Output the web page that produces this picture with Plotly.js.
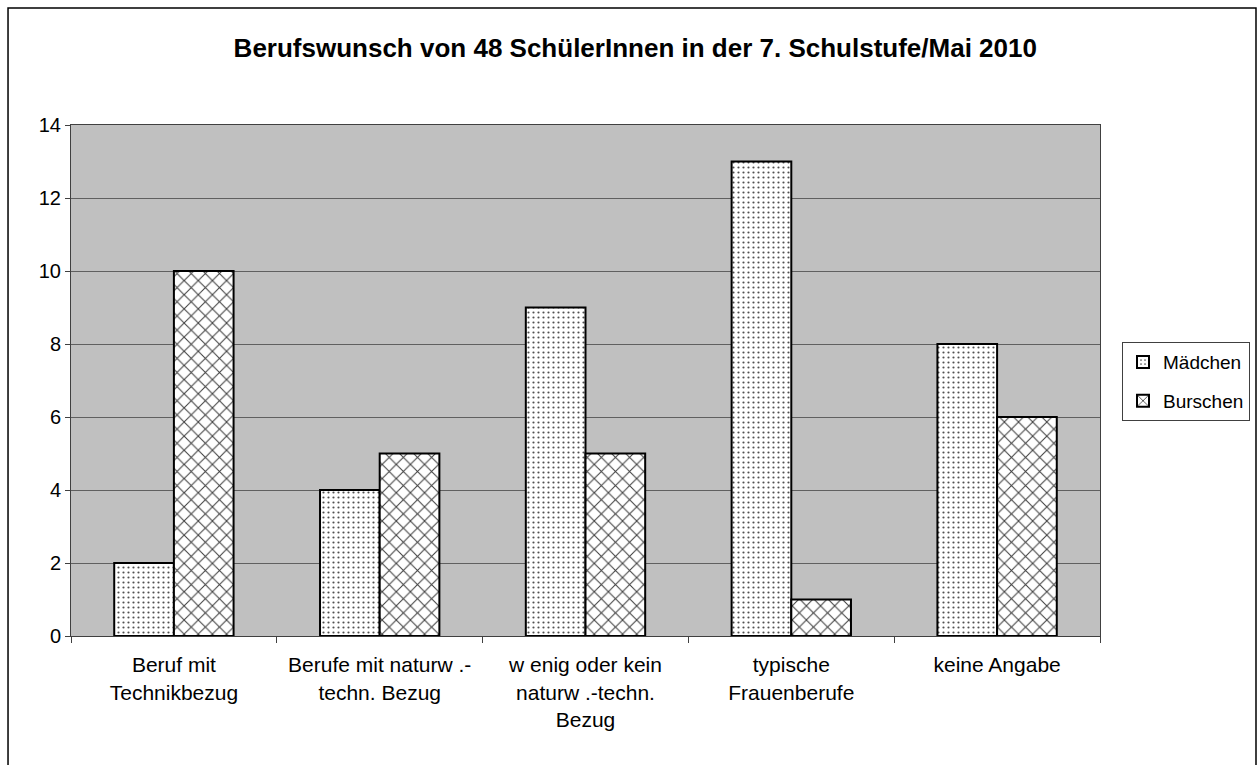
<!DOCTYPE html>
<html>
<head>
<meta charset="utf-8">
<script src="https://cdn.plot.ly/plotly-3.0.1.min.js"></script>
<style>
html,body{margin:0;padding:0;background:#fff;}
#chart{width:1258px;height:765px;}
</style>
</head>
<body>
<div id="chart"></div>
<script>
const categories = ["Beruf mit<br>Technikbezug", "Berufe mit naturw .-<br>techn. Bezug", "w enig oder kein<br>naturw .-techn.<br>Bezug", "typische<br>Frauenberufe", "keine Angabe"];
const maedchen = [2, 4, 9, 13, 8];
const burschen = [10, 5, 5, 1, 6];
const seriesNames = ["Mädchen", "Burschen"];
const yTicks = [0, 2, 4, 6, 8, 10, 12, 14];

const font = "Liberation Sans, Arial, sans-serif";

const traces = [
  {
    type: "bar", name: seriesNames[0], x: categories, y: maedchen, legendgroup: "a",
    marker: {color: "#ffffff", line: {color: "#000000", width: 2},
      pattern: {shape: ".", fgcolor: "#505050", bgcolor: "#ffffff", size: 5, solidity: 0.15}}
  },
  {
    type: "bar", name: seriesNames[1], x: categories, y: burschen, legendgroup: "b",
    marker: {color: "#ffffff", line: {color: "#000000", width: 2},
      pattern: {shape: "x", fgcolor: "#404040", bgcolor: "#ffffff", size: 10, solidity: 0.2}}
  }
];

const layout = {
  width: 1258, height: 765,
  margin: {l: 71, r: 158, t: 125, b: 129, autoexpand: false},
  paper_bgcolor: "#ffffff",
  plot_bgcolor: "#c0c0c0",
  barmode: "group",
  bargap: 0.42,
  bargroupgap: 0,
  font: {family: font, size: 21, color: "#000000"},
  title: {text: "<b>Berufswunsch von 48 SchülerInnen in der 7. Schulstufe/Mai 2010</b>",
    font: {family: font, size: 26, color: "#000000"}, x: 0.505, xanchor: "center", y: 0.937, yanchor: "middle"},
  xaxis: {
    type: "category", showgrid: false, showline: true, linecolor: "#404040", linewidth: 1,
    mirror: true, ticks: "outside", tickson: "boundaries", ticklen: 6, tickcolor: "#404040",
    ticklabelstandoff: 10,
    tickfont: {family: font, size: 21, color: "#000000"}, fixedrange: true
  },
  yaxis: {
    range: [0, 14], tickvals: yTicks, showgrid: true, gridcolor: "#606060", gridwidth: 1,
    showline: true, linecolor: "#404040", linewidth: 1, mirror: true,
    ticks: "outside", ticklen: 5, tickcolor: "#404040", zeroline: false,
    tickfont: {family: font, size: 20, color: "#000000"}, fixedrange: true
  },
  legend: {
    x: 1.0214, xanchor: "left", y: 0.575, yanchor: "top",
    bgcolor: "#ffffff", bordercolor: "#404040", borderwidth: 1,
    font: {family: font, size: 19, color: "#000000"}, itemwidth: 30, tracegroupgap: 11
  },
  shapes: [
    {type: "rect", xref: "paper", yref: "paper", x0: -0.0612, x1: 1.1516, y0: -0.27, y1: 1.229,
      line: {color: "#000000", width: 1.5}, fillcolor: "rgba(0,0,0,0)", layer: "above"}
  ]
};

Plotly.newPlot("chart", traces, layout, {displayModeBar: false, staticPlot: true});
</script>
</body>
</html>
